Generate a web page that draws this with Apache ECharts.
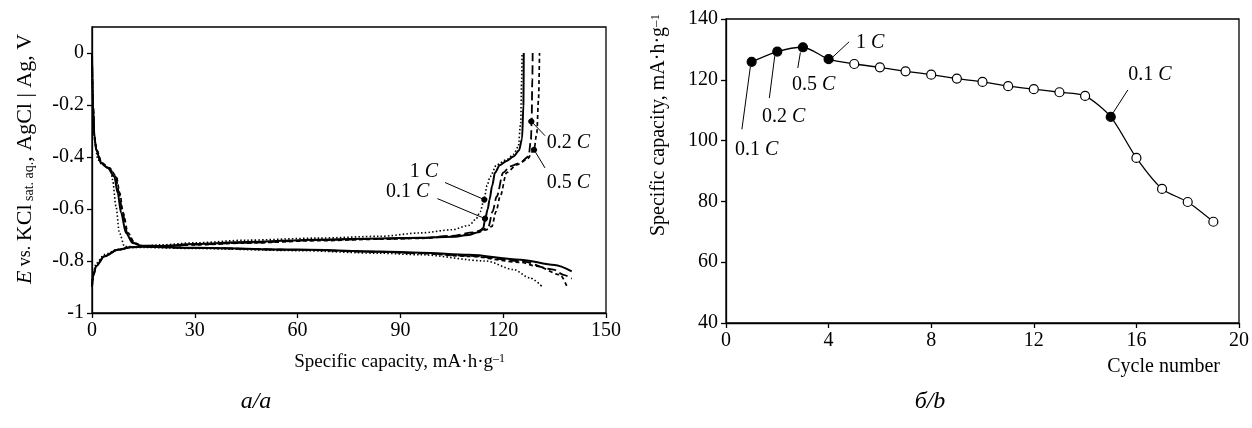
<!DOCTYPE html>
<html>
<head>
<meta charset="utf-8">
<script src="https://cdn.jsdelivr.net/npm/echarts@6/dist/echarts.min.js"></script>
<style>
  html, body { margin: 0; padding: 0; background: #fff; }
  #chart { width: 1252px; height: 428px; }
</style>
</head>
<body>
<div id="chart"></div>
<script>
// a: charge / discharge curves, points are [capacity mA·h/g, E V]
const charge01 = [[0, 0], [0.3, -0.2], [0.7, -0.32], [1.2, -0.372], [2.6, -0.423], [4.6, -0.442], [6.5, -0.475], [7.5, -0.538],
  [8.5, -0.615], [9.9, -0.692], [11.9, -0.731], [14.3, -0.741], [20, -0.742], [30, -0.735], [45, -0.727], [66, -0.718],
  [84, -0.713], [96, -0.711], [105, -0.707], [110, -0.7], [113, -0.688], [114.2, -0.673], [114.7, -0.64], [115.5, -0.6],
  [116, -0.564], [116.8, -0.51], [117.6, -0.46], [119, -0.432], [121, -0.415], [123, -0.398], [124.6, -0.375],
  [125.5, -0.33], [125.9, -0.2], [126, 0]]
const charge02 = [[0, 0], [0.3, -0.2], [0.7, -0.32], [1.3, -0.372], [2.8, -0.423], [4.9, -0.442], [6.9, -0.475], [7.9, -0.538],
  [8.9, -0.615], [10.3, -0.692], [12.3, -0.731], [14.6, -0.742], [20, -0.743], [30, -0.737], [45, -0.73], [66, -0.72],
  [84, -0.715], [96, -0.712], [105, -0.703], [111.3, -0.69], [114, -0.68], [115.7, -0.667], [116.9, -0.61],
  [118.1, -0.552], [120, -0.46], [122, -0.436], [124.9, -0.423], [127.4, -0.398], [128.1, -0.333], [128.3, -0.263],
  [128.5, -0.1], [128.6, 0]]
const charge05 = [[0, 0], [0.3, -0.2], [0.7, -0.32], [1.3, -0.372], [2.9, -0.423], [5.1, -0.442], [7.1, -0.475], [8.1, -0.538],
  [9.1, -0.615], [10.5, -0.692], [12.5, -0.731], [14.8, -0.742], [20, -0.744], [30, -0.738], [45, -0.731], [66, -0.722],
  [84, -0.716], [96, -0.713], [105, -0.706], [112, -0.692], [115, -0.68], [116.7, -0.667], [117.9, -0.61],
  [119.1, -0.552], [121, -0.46], [124, -0.43], [126.9, -0.41], [129, -0.372], [129.8, -0.308], [130.3, -0.18],
  [130.6, 0]]
const charge1 = [[0, 0], [0.3, -0.2], [0.8, -0.34], [1.7, -0.41], [3, -0.43], [5.5, -0.449], [6, -0.487], [7, -0.59],
  [8, -0.692], [9.5, -0.744], [12, -0.745], [20, -0.738], [30, -0.73], [45, -0.72], [66, -0.712], [84, -0.705],
  [96, -0.692], [105, -0.68], [110, -0.663], [112, -0.64], [113.3, -0.61], [114.4, -0.564], [115.3, -0.51],
  [116.2, -0.475], [118.1, -0.43], [121, -0.41], [123, -0.39], [124.4, -0.36], [125.1, -0.27], [125.4, -0.1], [125.5, 0]]

const discharge01 = [[0, -0.9], [0.3, -0.86], [1.2, -0.82], [3.6, -0.782], [7.5, -0.757], [11.4, -0.747], [15, -0.745],
  [30, -0.749], [60, -0.756], [84, -0.763], [96, -0.768], [110, -0.776], [125, -0.795], [135, -0.815], [140, -0.84]]
const discharge02 = [[0, -0.9], [0.3, -0.86], [1.2, -0.82], [3.6, -0.782], [7.5, -0.757], [11.4, -0.747], [15, -0.745],
  [30, -0.75], [60, -0.757], [84, -0.765], [96, -0.77], [110, -0.78], [125, -0.8], [134.7, -0.833], [137.6, -0.853],
  [140, -0.868]]
const discharge05 = [[0, -0.9], [0.3, -0.86], [1.2, -0.82], [3.6, -0.782], [7.5, -0.757], [11.4, -0.747], [15, -0.745],
  [30, -0.75], [60, -0.757], [84, -0.765], [96, -0.771], [110, -0.782], [125, -0.805], [129.8, -0.82], [136.6, -0.853],
  [138.6, -0.898]]
const discharge1 = [[0, -0.89], [0.3, -0.85], [1.2, -0.81], [3.6, -0.775], [7.5, -0.755], [11.4, -0.748], [15, -0.748],
  [30, -0.752], [60, -0.76], [84, -0.77], [96, -0.776], [115, -0.8], [123, -0.833], [127.8, -0.865], [131.3, -0.898]]

const capTicks = [0, 30, 60, 90, 120, 150]
const eTicks = [-1, -0.8, -0.6, -0.4, -0.2, 0]

// labels with leader lines: text position, line start, line end (data coords)
const notesA = [
  { rate: '1', text: [96.9, -0.457], from: [103, -0.498], to: [114.5, -0.564] },
  { rate: '0.1', text: [92.1, -0.533], from: [100.8, -0.56], to: [114.7, -0.637] },
  { rate: '0.2', text: [139, -0.346], from: [132.2, -0.318], to: [128.2, -0.263] },
  { rate: '0.5', text: [139, -0.5], from: [132.2, -0.442], to: [129, -0.372] }
]

// б: capacity vs cycle number
const cycles = [1, 2, 3, 4, 5, 6, 7, 8, 9, 10, 11, 12, 13, 14, 15, 16, 17, 18, 19]
const capacity = [125.9, 129.3, 130.7, 126.8, 125.2, 124.1, 122.8, 121.7, 120.4, 119.3, 117.9, 116.9, 115.9, 114.7,
  107.8, 94.3, 84.1, 79.8, 73.3]
const filledCycles = [1, 2, 3, 4, 15]
const cycleTicks = [0, 4, 8, 12, 16, 20]
const capacityTicks = [40, 60, 80, 100, 120, 140]

const notesB = [
  { rate: '0.1', text: [1.2, 96.9], from: [0.62, 103.7], to: [0.95, 124.3] },
  { rate: '0.2', text: [2.25, 107.8], from: [1.69, 114], to: [1.9, 127.8] },
  { rate: '0.5', text: [3.42, 118.3], from: [2.8, 123.9], to: [2.9, 129] },
  { rate: '1', text: [5.62, 132.2], from: [4.8, 132.5], to: [4.15, 127.4] },
  { rate: '0.1', text: [16.53, 121.6], from: [15.67, 116.7], to: [15.05, 108.6] }
]

const FONT = 'Liberation Serif'
const chart = echarts.init(document.getElementById('chart'))

const rateRich = {
  n: { fontFamily: FONT, fontSize: 20, color: '#000' },
  i: { fontFamily: FONT, fontSize: 20, fontStyle: 'italic', color: '#000' }
}

function axisCommon(ticks) {
  return {
    axisLine: { show: true, onZero: false, lineStyle: { color: '#000', width: 1.3 } },
    axisTick: { show: true, inside: false, length: 5, customValues: ticks, lineStyle: { color: '#000', width: 1.3 } },
    splitLine: { show: false },
    axisLabel: { customValues: ticks, fontFamily: FONT, fontSize: 20, color: '#000' }
  }
}

function curve(name, data, type, width) {
  return {
    name: name,
    type: 'line',
    xAxisIndex: 0,
    yAxisIndex: 0,
    data: data,
    showSymbol: false,
    smooth: 0.3,
    smoothMonotone: 'x',
    silent: true,
    lineStyle: { color: '#000', width: width, type: type, cap: 'butt' }
  }
}

// rate labels, drawn as zero-size scatter points carrying text
function noteLabels(notes, axis) {
  return {
    type: 'scatter',
    xAxisIndex: axis,
    yAxisIndex: axis,
    silent: true,
    symbolSize: 0,
    itemStyle: { color: '#000', opacity: 1 },
    data: notes.map(d => ({ value: d.text, rate: d.rate })),
    label: {
      show: true,
      position: 'inside',
      color: '#000',
      opacity: 1,
      textBorderWidth: 0,
      formatter: p => '{n|' + p.data.rate + ' }{i|C}',
      rich: rateRich
    },
    z: 5
  }
}

function leaderLines(notes, endSymbol) {
  return {
    silent: true,
    symbol: ['none', endSymbol],
    symbolSize: 6,
    label: { show: false },
    lineStyle: { color: '#000', width: 1, type: 'solid' },
    emphasis: { disabled: true },
    data: notes.map(d => [{ coord: d.from }, { coord: d.to }])
  }
}

const series = [
  Object.assign(curve('0.1 C charge', charge01, 'solid', 2), { markLine: leaderLines(notesA, 'circle') }),
  curve('0.2 C charge', charge02, [9, 4], 1.8),
  curve('0.5 C charge', charge05, [4, 3], 1.7),
  curve('1 C charge', charge1, [1.5, 2.2], 1.6),
  curve('0.1 C discharge', discharge01, 'solid', 2),
  curve('0.2 C discharge', discharge02, [9, 4], 1.8),
  curve('0.5 C discharge', discharge05, [4, 3], 1.7),
  curve('1 C discharge', discharge1, [1.5, 2.2], 1.6),
  noteLabels(notesA, 0),
  {
    name: 'capacity',
    type: 'line',
    xAxisIndex: 1,
    yAxisIndex: 1,
    smooth: 0.25,
    silent: true,
    symbol: 'circle',
    symbolSize: 9,
    lineStyle: { color: '#000', width: 1.3 },
    data: cycles.map((c, i) => ({
      value: [c, capacity[i]],
      itemStyle: filledCycles.includes(c)
        ? { color: '#000', borderColor: '#000', borderWidth: 1.2 }
        : { color: '#fff', borderColor: '#000', borderWidth: 1.2 }
    })),
    markLine: leaderLines(notesB, 'none'),
    z: 3
  },
  noteLabels(notesB, 1)
]

chart.setOption({
  animation: false,
  backgroundColor: '#fff',
  grid: [
    { left: 92, top: 27, width: 514, height: 286, show: true, borderColor: '#000', borderWidth: 1.3, containLabel: false },
    { left: 726, top: 19, width: 513, height: 304, show: true, borderColor: '#000', borderWidth: 1.3, containLabel: false }
  ],
  xAxis: [
    Object.assign(axisCommon(capTicks), { type: 'value', gridIndex: 0, min: 0, max: 150, interval: 30 }),
    Object.assign(axisCommon(cycleTicks), { type: 'value', gridIndex: 1, min: 0, max: 20, interval: 4 })
  ],
  yAxis: [
    Object.assign(axisCommon(eTicks), { type: 'value', gridIndex: 0, min: -1, max: 0.1, interval: 0.2 }),
    Object.assign(axisCommon(capacityTicks), { type: 'value', gridIndex: 1, min: 40, max: 140, interval: 20 })
  ],
  series: series,
  graphic: [
    {
      type: 'text', x: 25, y: 159, rotation: Math.PI / 2, silent: true,
      style: {
        text: '{i|E}{v| vs. }{n|KCl}{s| sat. aq.}{n|, AgCl | Ag, V}',
        align: 'center', verticalAlign: 'middle', textAlign: 'center', textVerticalAlign: 'middle',
        rich: {
          i: { fontFamily: FONT, fontSize: 22, fontStyle: 'italic', fill: '#000' },
          v: { fontFamily: FONT, fontSize: 18, fill: '#000' },
          n: { fontFamily: FONT, fontSize: 22, fill: '#000' },
          s: { fontFamily: FONT, fontSize: 14, fill: '#000', verticalAlign: 'bottom' }
        }
      }
    },
    {
      type: 'text', x: 505, y: 362, silent: true,
      style: {
        text: '{n|Specific capacity, mA·h·g}{s|–1}',
        align: 'right', verticalAlign: 'middle', textAlign: 'right', textVerticalAlign: 'middle',
        rich: {
          n: { fontFamily: FONT, fontSize: 19, fill: '#000' },
          s: { fontFamily: FONT, fontSize: 12, fill: '#000', verticalAlign: 'top' }
        }
      }
    },
    {
      type: 'text', x: 659, y: 125, rotation: Math.PI / 2, silent: true,
      style: {
        text: '{n|Specific capacity, mA·h·g}{s|–1}',
        align: 'center', verticalAlign: 'middle', textAlign: 'center', textVerticalAlign: 'middle',
        rich: {
          n: { fontFamily: FONT, fontSize: 20, fill: '#000' },
          s: { fontFamily: FONT, fontSize: 13, fill: '#000', verticalAlign: 'top' }
        }
      }
    },
    {
      type: 'text', x: 1220, y: 367, silent: true,
      style: {
        text: 'Cycle number', fontFamily: FONT, fontSize: 20, fill: '#000',
        align: 'right', verticalAlign: 'middle', textAlign: 'right', textVerticalAlign: 'middle'
      }
    },
    {
      type: 'text', x: 256, y: 402, silent: true,
      style: {
        text: 'а/a', fontFamily: FONT, fontSize: 24, fontStyle: 'italic', fill: '#000',
        align: 'center', verticalAlign: 'middle', textAlign: 'center', textVerticalAlign: 'middle'
      }
    },
    {
      type: 'text', x: 930, y: 402, silent: true,
      style: {
        text: 'б/b', fontFamily: FONT, fontSize: 24, fontStyle: 'italic', fill: '#000',
        align: 'center', verticalAlign: 'middle', textAlign: 'center', textVerticalAlign: 'middle'
      }
    }
  ]
})
</script>
</body>
</html>
